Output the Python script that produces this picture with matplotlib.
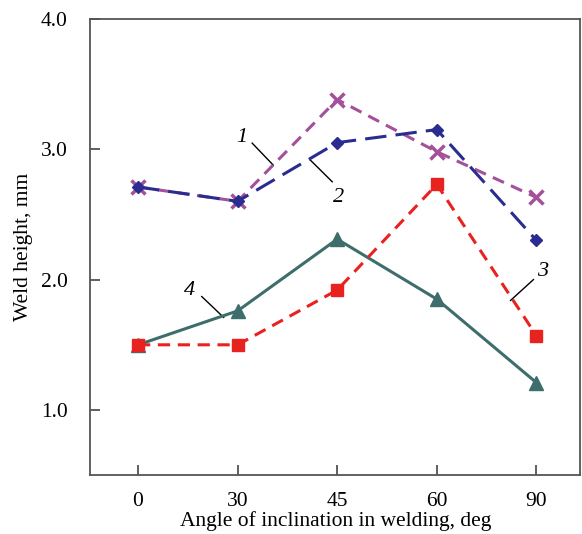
import matplotlib.pyplot as plt
import numpy as np

plt.rcParams['font.family'] = ['Liberation Serif', 'DejaVu Serif']

angles = ['0', '30', '45', '60', '90']
h1 = [2.71, 2.60, 3.38, 2.98, 2.63]
h2 = [2.71, 2.60, 3.05, 3.15, 2.30]
h3 = [1.50, 1.50, 1.92, 2.73, 1.57]
h4 = [1.50, 1.76, 2.31, 1.85, 1.21]

fig = plt.figure(figsize=(5.82, 5.34), dpi=100)
ax = fig.add_axes([0.155, 0.110, 0.842, 0.855])
x = np.arange(len(angles))

ax.plot(x, h4, color='#3D6E6B', lw=2.2, marker='^', ms=10, zorder=3)
ax.plot(x, h3, color='#E8221E', lw=2.2, dashes=(4, 2.5), marker='s', ms=9, zorder=3)
ax.plot(x, h1, color='#A4509B', lw=2.2, dashes=(4, 2.5), marker='x', ms=10, mew=2.5, zorder=4)
ax.plot(x, h2, color='#2A2C8F', lw=2.2, dashes=(7, 3), marker='D', ms=6.5, zorder=5)

# curve numbers with leader lines
for num, txt_xy, start, end in [('1', (1.045, 3.09), (1.146, 3.046), (1.357, 2.878)),
                                 ('2', (2.01, 2.626), (1.95, 2.75), (1.73, 2.916)),
                                 ('3', (4.06, 2.06), (3.97, 2.0), (3.74, 1.84)),
                                 ('4', (0.52, 1.92), (0.64, 1.87), (0.86, 1.71))]:
    ax.text(*txt_xy, num, fontsize=16, style='italic', ha='center', va='center')
    ax.plot([start[0], end[0]], [start[1], end[1]], color='black', lw=1.0)

ax.set_xlim(-0.48, 4.44)
ax.set_ylim(0.5, 4.0)
ax.set_xticks(x)
ax.set_xticklabels(angles)
ax.set_yticks([1.0, 2.0, 3.0, 4.0])
ax.set_yticklabels(['1.0', '2.0', '3.0', '4.0'])
ax.tick_params(direction='in', length=7, width=1.2, labelsize=15.5, color='#444444', pad=16)
ax.tick_params(axis='x', pad=12)
for s in ax.spines.values():
    s.set_color('#555555')
    s.set_linewidth(1.3)

ax.set_xlabel('Angle of inclination in welding, deg', fontsize=15.5, labelpad=0)
ax.set_ylabel('Weld height, mm', fontsize=15.5, labelpad=6)

plt.savefig('out.png', dpi=100)
